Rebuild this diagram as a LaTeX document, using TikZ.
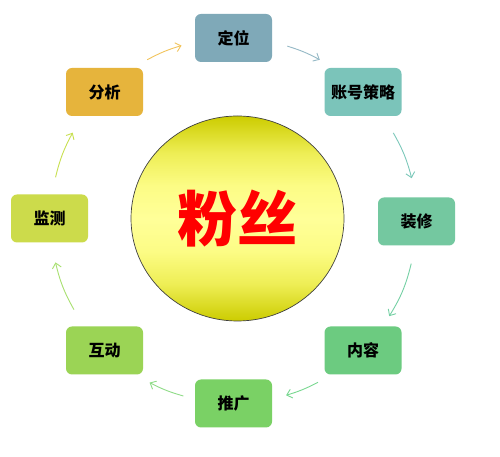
\documentclass[tikz,border=0pt]{standalone}
\usepackage{fontspec}
\setmainfont{Noto Sans CJK SC}
\newfontfamily\cjk{Noto Sans CJK SC}
\usetikzlibrary{shapes.geometric,arrows.meta}
\definecolor{cDing}{HTML}{7FA9B8}
\definecolor{cZhang}{HTML}{7BC4BA}
\definecolor{cZhuang}{HTML}{74C8A0}
\definecolor{cNei}{HTML}{6CCB80}
\definecolor{cTui}{HTML}{7AD165}
\definecolor{cHu}{HTML}{9BD455}
\definecolor{cJian}{HTML}{CCDB4B}
\definecolor{cFen}{HTML}{E6B43C}
\definecolor{aOne}{HTML}{F2C45C}
\definecolor{aTwo}{HTML}{95B9C6}
\definecolor{aThree}{HTML}{7CC8BA}
\definecolor{aFour}{HTML}{74D0A4}
\definecolor{aFive}{HTML}{78D890}
\definecolor{aSix}{HTML}{90DC88}
\definecolor{aSeven}{HTML}{A8E070}
\definecolor{aEight}{HTML}{C8E050}
\definecolor{ylDark}{HTML}{CCCC00}
\definecolor{ylMid}{HTML}{EEEE55}
\definecolor{ylPale}{HTML}{FCFC85}
\definecolor{ylLight}{HTML}{FFFF99}
\pgfdeclareverticalshading{fanshade}{100bp}{color(0bp)=(ylDark); color(25bp)=(ylDark);
  color(34bp)=(ylMid); color(42bp)=(ylPale); color(50bp)=(ylLight); color(58bp)=(ylPale);
  color(66bp)=(ylMid); color(75bp)=(ylDark); color(100bp)=(ylDark)}
\begin{document}
\begin{tikzpicture}[x=1pt,y=1pt,
  box/.style={rounded corners=6pt, minimum width=77pt, minimum height=48pt,
    inner sep=0pt, font=\cjk\bfseries\fontsize{16}{19}\selectfont, text=black},
  arr/.style={-{Straight Barb[length=5pt,width=9pt]}, line width=0.9pt}]
\useasboundingbox[fill=white] (0,0) rectangle (500,457);
\coordinate (c) at (233.5,237);
% central ellipse
\node[ellipse, draw=black!75, line width=0.7pt, minimum width=213pt, minimum height=205pt,
  inner sep=0pt, shade, shading=fanshade,
  font=\cjk\bfseries\fontsize{60}{64}\selectfont, text=red] (fans) at (237.5,238.5) {粉丝};
% boxes
\node[box, fill=cDing]   (ding)   at (233.5,419)   {定位};
\node[box, fill=cZhang]  (zhang)  at (363,365)     {账号策略};
\node[box, fill=cZhuang] (zhuang) at (416.5,235.5) {装修};
\node[box, fill=cNei]    (nei)    at (363,106.5)   {内容};
\node[box, fill=cTui]    (tui)    at (233.5,53.5)  {推广};
\node[box, fill=cHu]     (hu)     at (104.5,106.5) {互动};
\node[box, fill=cJian]   (jian)   at (49.5,238.5)  {监测};
\node[box, fill=cFen]    (fen)    at (104.5,365)   {分析};
% arrow end points on the ring
\coordinate (a1s) at ([shift={(118.3:182)}]c);
\coordinate (a1e) at ([shift={(106.6:182)}]c);
\coordinate (a2s) at ([shift={(72.8:182)}]c);
\coordinate (a2e) at ([shift={(61.7:182)}]c);
\coordinate (a3s) at ([shift={(28.6:182)}]c);
\coordinate (a3e) at ([shift={(13.2:183)}]c);
\coordinate (a4s) at ([shift={(-13.8:183)}]c);
\coordinate (a4e) at ([shift={(-31.7:183)}]c);
\coordinate (a5s) at ([shift={(-62.5:183)}]c);
\coordinate (a5e) at ([shift={(-73.3:183)}]c);
\coordinate (a6s) at ([shift={(-105.9:183)}]c);
\coordinate (a6e) at ([shift={(-117.3:183)}]c);
\coordinate (a7s) at ([shift={(-150.7:183)}]c);
\coordinate (a7e) at ([shift={(-166.6:183)}]c);
\coordinate (a8s) at ([shift={(166.5:183)}]c);
\coordinate (a8e) at ([shift={(151.5:183)}]c);
% arrows
\draw[arr, aOne]   (a1s) to[bend left=5.9] (a1e);
\draw[arr, aTwo]   (a2s) to[bend left=5.6] (a2e);
\draw[arr, aThree] (a3s) to[bend left=7.7] (a3e);
\draw[arr, aFour]  (a4s) to[bend left=9] (a4e);
\draw[arr, aFive]  (a5s) to[bend left=5.4] (a5e);
\draw[arr, aSix]   (a6s) to[bend left=5.7] (a6e);
\draw[arr, aSeven] (a7s) to[bend left=8] (a7e);
\draw[arr, aEight] (a8s) to[bend left=7.5] (a8e);
\end{tikzpicture}
\end{document}
